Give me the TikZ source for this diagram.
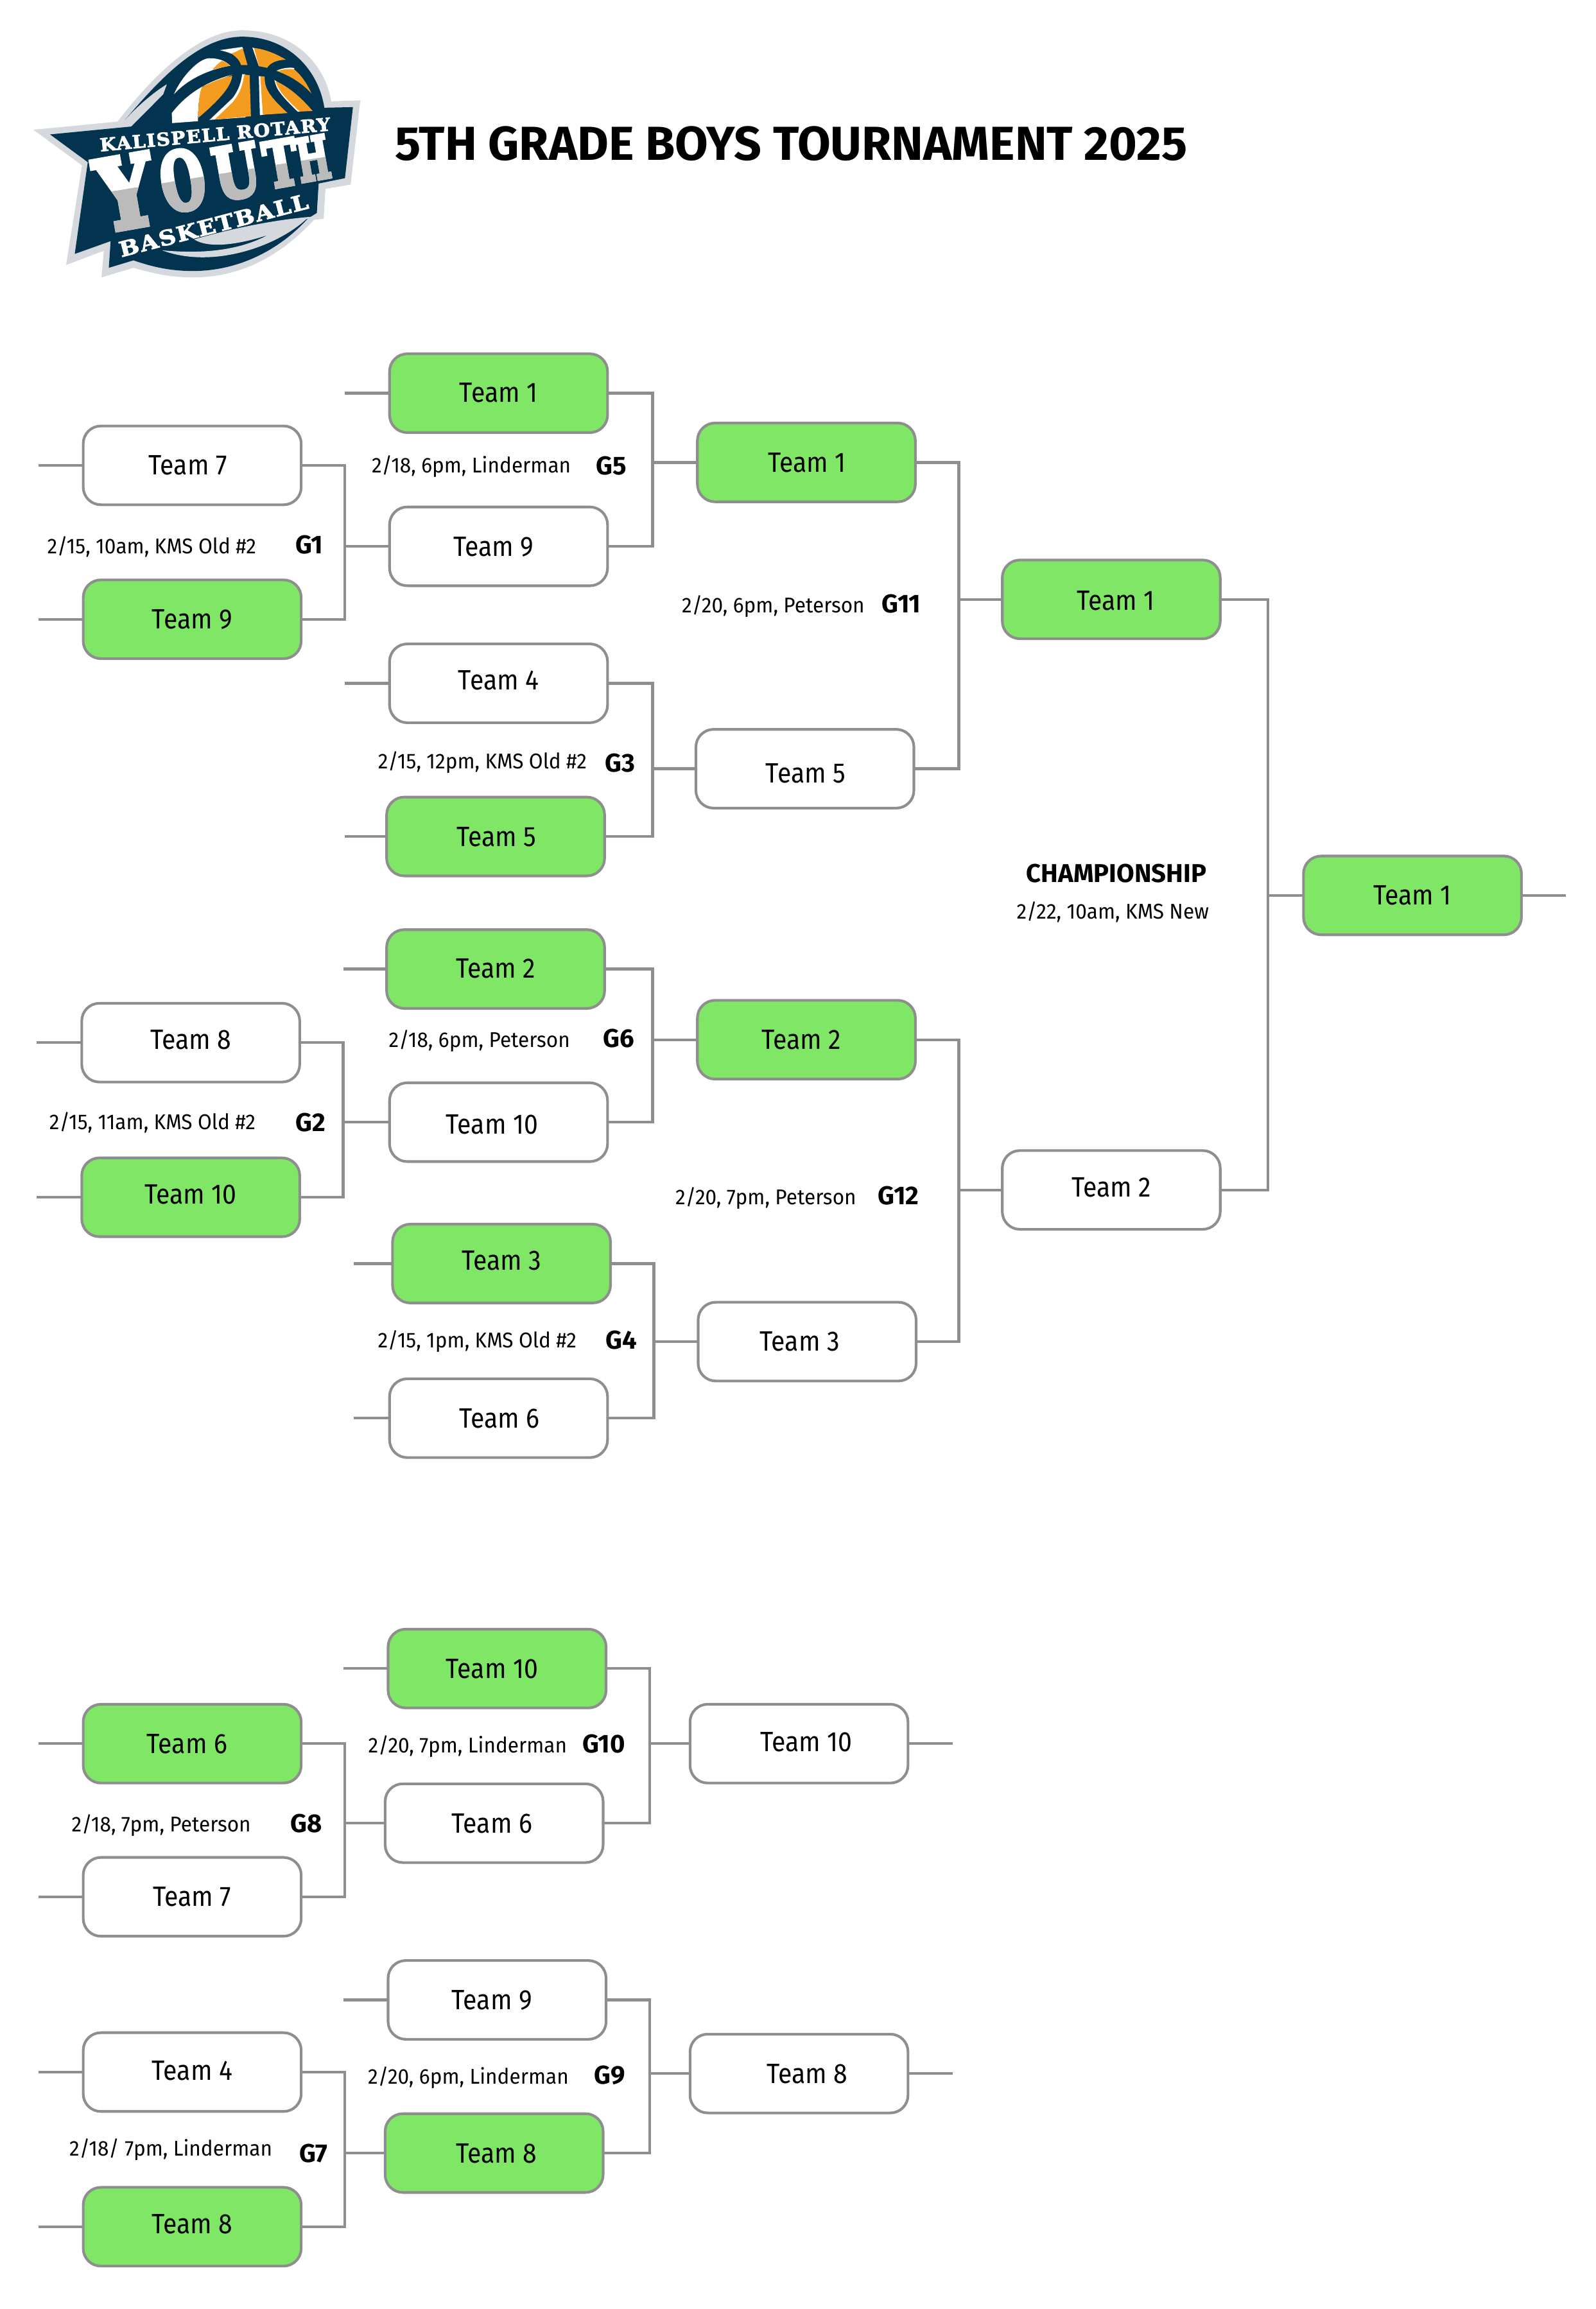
\documentclass[tikz,border=0pt]{standalone}
\usepackage{fontspec}
\usepackage{graphicx}
\setmainfont{Fira Sans}[FakeStretch=0.9]
\newfontfamily\infofont{Fira Sans}[FakeStretch=0.95]
\newfontfamily\gamefont{Fira Sans}
\newfontfamily\slab{DejaVu Serif}[LetterSpace=6,FakeBold=3]
\newfontfamily\slabheavy{DejaVu Serif}[FakeBold=6]
\definecolor{navy}{HTML}{03344F}
\definecolor{ltgrey}{HTML}{D5D9DE}
\definecolor{midgrey}{HTML}{BBBBBB}
\definecolor{ballorange}{HTML}{F39C1F}
\definecolor{wingreen}{HTML}{80E766}
\definecolor{linegrey}{HTML}{8E8E8E}
\tikzset{
  teambox/.style={draw=linegrey,line width=1.8pt,rounded corners=12pt,minimum width=148pt,minimum height=53.5pt,inner sep=0pt,outer sep=0pt,text height=13pt,text depth=0pt,font=\fontsize{19}{19}\selectfont},
  whitebox/.style={teambox,fill=white},
  greenbox/.style={teambox,fill=wingreen},
  conn/.style={draw=linegrey,line width=1.9pt},
  info/.style={inner sep=0pt,text height=10pt,text depth=0pt,font=\infofont\fontsize{14.5}{14.5}\selectfont},
  gameid/.style={inner sep=0pt,text height=12.3pt,text depth=0pt,font=\gamefont\fontsize{17.5}{17.5}\selectfont\bfseries},
  logotext/.style={inner sep=0pt,outer sep=0pt,font=\slab\bfseries\fontsize{20}{20}\selectfont},
  logoheavy/.style={inner sep=0pt,outer sep=0pt,rotate=10,font=\slabheavy\bfseries\fontsize{20}{20}\selectfont},
}
\newcommand{\tb}[7]{\node[#4] (#1) at (#2,#3) {\raisebox{#6pt}{\kern#5pt #7\kern-#5pt}};}
\newcommand{\brk}[4]{%
  \coordinate (j#3) at (#4,0 |- #3.west);
  \draw[conn] (#1.east) -| (j#3) |- (#2.east);
  \draw[conn] (j#3) -- (#3.west);}
\newcommand{\stub}[3]{\coordinate (s#1) at (#2,0 |- #1.#3); \draw[conn] (s#1) -- (#1.#3);}
\newcommand{\youthletters}[1]{%
  \node[logoheavy,text=#1] (youthY) at (85.2,130.4) {\resizebox{38pt}{48pt}{Y}};
  \node[logoheavy,text=#1] (youthO) at (124,122.4) {\resizebox{30pt}{40pt}{O}};
  \node[logoheavy,text=#1] (youthU) at (160.5,116.6) {\resizebox{31pt}{35pt}{U}};
  \node[logoheavy,text=#1] (youthT) at (190.7,110.8) {\resizebox{23pt}{31pt}{T}};
  \node[logoheavy,text=#1] (youthH) at (212.5,107.5) {\resizebox{22pt}{29pt}{H}};}
\begin{document}
\begin{tikzpicture}[x=1pt,y=-1pt]
\path[use as bounding box,fill=white] (0,0) rectangle (1083.2,1567.9);

% ---------- logo
\begin{scope}[shift={(13.04,13.04)},x=.1552pt,y=-.1449pt]
  \fill[ltgrey] (62,518) -- (430,480) .. controls (560,300) and (770,52) .. (975,52)
     .. controls (1210,52) and (1340,220) .. (1365,385) -- (1492,380) -- (1450,775) -- (1340,795) -- (1332,935) -- (1290,940)
     .. controls (1150,1100) and (980,1210) .. (760,1210) .. controls (660,1210) and (580,1190) .. (500,1165)
     -- (360,1210) -- (370,1085) -- (205,1152) -- (275,685) -- cycle;
  \fill[navy] (135,540) -- (490,503) -- (462,473) .. controls (600,300) and (780,82) .. (975,82)
     .. controls (1180,82) and (1310,240) .. (1335,415) -- (1460,412) -- (1425,745) -- (1310,770) -- (1302,908) -- (1262,935)
     .. controls (1130,1090) and (950,1180) .. (760,1180) .. controls (660,1180) and (580,1160) .. (500,1130)
     -- (392,1165) -- (400,1040) -- (243,1100) -- (300,670) -- cycle;
  \fill[ltgrey] (765,1032) .. controls (900,990) and (1100,940) .. (1288,925) -- (1255,938)
     .. controls (1120,1070) and (840,1170) .. (625,1083) .. controls (747,1095) and (933,1100) .. (1087,1012)
     .. controls (933,1065) and (821,1070) .. (765,1032) -- cycle;
\end{scope}
\begin{scope}[shift={(73.88,26.08)},x=.14487pt,y=-.14487pt]
  \fill[ltgrey] (105,413) -- (255,262) -- (272,215) .. controls (230,240) and (150,300) .. (75,383) -- (60,392) -- cycle;
  % white panels
  \fill[white] (520,55) -- (625,40) -- (630,50) -- (575,72) .. controls (560,65) and (540,60) .. (520,55) -- cycle;
  \fill[white] (305,262) .. controls (340,180) and (420,95) .. (470,93) .. controls (525,93) and (550,110) .. (570,128)
     .. controls (470,145) and (370,190) .. (305,262) -- cycle;
  \fill[white] (295,350) .. controls (350,280) and (430,210) .. (578,170) -- (440,225) .. controls (425,260) and (418,310) .. (418,388) -- (297,397) -- cycle;
  \fill[white] (472,382) -- (580,280) .. controls (610,240) and (620,205) .. (625,168) -- (640,168) -- (640,370) -- cycle;
  \fill[white] (673,43) -- (700,50) -- (715,130) -- (703,130) -- cycle;
  \fill[white] (703,177) -- (730,180) -- (730,357) -- (708,360) -- cycle;
  \fill[white] (785,152) .. controls (820,135) and (860,135) .. (870,140) -- (860,160) -- cycle;
  \fill[white] (776,195) -- (800,210) -- (895,343) -- (885,343) .. controls (810,270) and (785,240) .. (776,195) -- cycle;
  % orange panels
  \fill[ballorange] (575,72) -- (628,47) -- (650,125) -- (620,125) .. controls (612,100) and (595,85) .. (575,72) -- cycle;
  \fill[ballorange] (681,45) .. controls (730,50) and (785,72) .. (830,100) .. controls (790,100) and (755,115) .. (742,138) -- (703,130) -- cycle;
  \fill[ballorange] (485,147) .. controls (500,130) and (515,115) .. (530,105) .. controls (545,110) and (558,118) .. (570,128) .. controls (540,133) and (510,140) .. (485,147) -- cycle;
  \fill[ballorange] (790,154) .. controls (820,142) and (850,142) .. (870,146) .. controls (905,175) and (930,215) .. (950,258)
     .. controls (905,210) and (850,175) .. (790,154) -- cycle;
  \fill[ballorange] (435,230) .. controls (480,205) and (530,185) .. (578,175) .. controls (575,215) and (540,270) .. (420,372) .. controls (418,310) and (425,260) .. (435,230) -- cycle;
  \fill[ballorange] (634,170) -- (660,172) -- (666,365) -- (497,380) -- (580,300) .. controls (620,250) and (628,215) .. (634,170) -- cycle;
  \fill[ballorange] (710,177) -- (730,180) .. controls (730,230) and (745,265) .. (838,350) -- (722,358) -- cycle;
  \fill[ballorange] (782,200) .. controls (840,225) and (900,275) .. (955,340) -- (895,343) .. controls (840,290) and (795,250) .. (782,200) -- cycle;
\end{scope}
\node[logotext,rotate=5.2,text=white] (logoA) at (146,91.3) {\resizebox{157pt}{9pt}{KALISPELL ROTARY}};
\youthletters{white}
\begin{scope}
  \clip (59.6,132.6) -- (230.3,105.0) -- (230.3,172.4) -- (59.6,172.4) -- cycle;
  \youthletters{midgrey}
\end{scope}
\node[logotext,rotate=14.6,text=white] (logoB) at (145,153) {\resizebox{132pt}{10.5pt}{BASKETBALL}};

% ---------- title
\node[inner sep=0pt,anchor=west,font=\gamefont\bfseries\fontsize{33}{33}\selectfont] (title) at (268,97.5) {\resizebox{538pt}{23pt}{5TH GRADE BOYS TOURNAMENT 2025}};

% ---------- upper bracket boxes
\tb{aA}{338.5}{267}{greenbox}{0}{0.5}{Team 1}
\tb{aB}{130.5}{316}{whitebox}{-3}{0}{Team 7}
\tb{aC}{130.5}{420.5}{greenbox}{0}{0}{Team 9}
\tb{aD}{338.5}{371}{whitebox}{-3.5}{0}{Team 9}
\tb{aE}{547.5}{314}{greenbox}{0.5}{0}{Team 1}
\tb{aF}{338.5}{464}{whitebox}{0}{2}{Team 4}
\tb{aG}{336.5}{568}{greenbox}{0.5}{0}{Team 5}
\tb{aH}{546.5}{522}{whitebox}{0.5}{-3}{Team 5}
\tb{aI}{754.5}{407}{greenbox}{3}{-1}{Team 1}
\tb{aJ}{959}{608}{greenbox}{0}{0}{Team 1}
\tb{bA}{336.5}{658}{greenbox}{0}{0.5}{Team 2}
\tb{bB}{129.5}{708}{whitebox}{0}{2}{Team 8}
\tb{bC}{338.5}{762}{whitebox}{-4.5}{-1.5}{Team 10}
\tb{bD}{129.5}{813}{greenbox}{0}{2}{Team 10}
\tb{bE}{547.5}{706}{greenbox}{-3.5}{0}{Team 2}
\tb{bF}{340.5}{858}{greenbox}{0}{2}{Team 3}
\tb{bG}{338.5}{963}{whitebox}{0.5}{0}{Team 6}
\tb{bH}{548}{911}{whitebox}{-5}{0}{Team 3}
\tb{bI}{754.5}{808}{whitebox}{0}{2}{Team 2}
% ---------- lower bracket boxes
\tb{cA}{337.5}{1133}{greenbox}{-3.5}{0}{Team 10}
\tb{cB}{130.5}{1184}{greenbox}{-3.5}{0}{Team 6}
\tb{cC}{335.5}{1238}{whitebox}{-1.5}{0}{Team 6}
\tb{cD}{542.5}{1184}{whitebox}{5}{1}{Team 10}
\tb{cE}{130.5}{1288}{whitebox}{0}{0}{Team 7}
\tb{dA}{337.5}{1358}{whitebox}{-3.5}{0}{Team 9}
\tb{dB}{130.5}{1407}{whitebox}{0}{1}{Team 4}
\tb{dC}{542.5}{1408}{whitebox}{5.5}{0}{Team 8}
\tb{dD}{335.5}{1462}{greenbox}{1.5}{0}{Team 8}
\tb{dE}{130.5}{1512}{greenbox}{0}{2}{Team 8}

% ---------- connectors
\brk{aB}{aC}{aD}{234}
\brk{aA}{aD}{aE}{443}
\brk{aF}{aG}{aH}{443}
\brk{aE}{aH}{aI}{651}
\brk{bB}{bD}{bC}{233}
\brk{bA}{bC}{bE}{443}
\brk{bF}{bG}{bH}{444}
\brk{bE}{bH}{bI}{651}
\brk{aI}{bI}{aJ}{861}
\brk{cA}{cC}{cD}{441}
\brk{cB}{cE}{cC}{234}
\brk{dA}{dD}{dC}{441}
\brk{dB}{dE}{dD}{234}
\stub{aB}{26}{west} \stub{aC}{26}{west} \stub{aA}{234}{west} \stub{aF}{234}{west} \stub{aG}{234}{west}
\stub{bB}{25}{west} \stub{bD}{25}{west} \stub{bA}{233}{west} \stub{bF}{240}{west} \stub{bG}{240}{west}
\stub{cB}{26}{west} \stub{cE}{26}{west} \stub{cA}{233}{west}
\stub{dB}{26}{west} \stub{dE}{26}{west} \stub{dA}{233}{west}
\stub{aJ}{1063}{east} \stub{cD}{647}{east} \stub{dC}{647}{east}

% ---------- game information
\node[info] (iA) at (103,371) {2/15, 10am, KMS Old \#2};
\node[gameid] (gA) at (210,370) {G1};
\node[info] (iB) at (320,316) {2/18, 6pm, Linderman};
\node[gameid] (gB) at (415,316) {G5};
\node[info] (iC) at (525,411) {2/20, 6pm, Peterson};
\node[gameid] (gC) at (612,410) {G11};
\node[info] (iD) at (327.5,517) {2/15, 12pm, KMS Old \#2};
\node[gameid] (gD) at (421,518) {G3};
\node[info] (iE) at (325.5,706) {2/18, 6pm, Peterson};
\node[gameid] (gE) at (420,705) {G6};
\node[info] (iF) at (103.5,762) {2/15, 11am, KMS Old \#2};
\node[gameid] (gF) at (211,762) {G2};
\node[info] (iG) at (520,813) {2/20, 7pm, Peterson};
\node[gameid] (gG) at (610,812) {G12};
\node[info] (iH) at (324,910) {2/15, 1pm, KMS Old \#2};
\node[gameid] (gH) at (422,910) {G4};
\node[gameid] (gI) at (758,593) {CHAMPIONSHIP};
\node[info] (iI) at (755.5,619) {2/22, 10am, KMS New};
\node[info] (iJ) at (317.5,1185) {2/20, 7pm, Linderman};
\node[gameid] (gJ) at (410,1184) {G10};
\node[info] (iK) at (109.5,1239) {2/18, 7pm, Peterson};
\node[gameid] (gK) at (208,1238) {G8};
\node[info] (iL) at (318,1410) {2/20, 6pm, Linderman};
\node[gameid] (gL) at (414,1409) {G9};
\node[info] (iM) at (116,1459) {2/18/ 7pm, Linderman};
\node[gameid] (gM) at (213,1462) {G7};
\end{tikzpicture}
\end{document}
